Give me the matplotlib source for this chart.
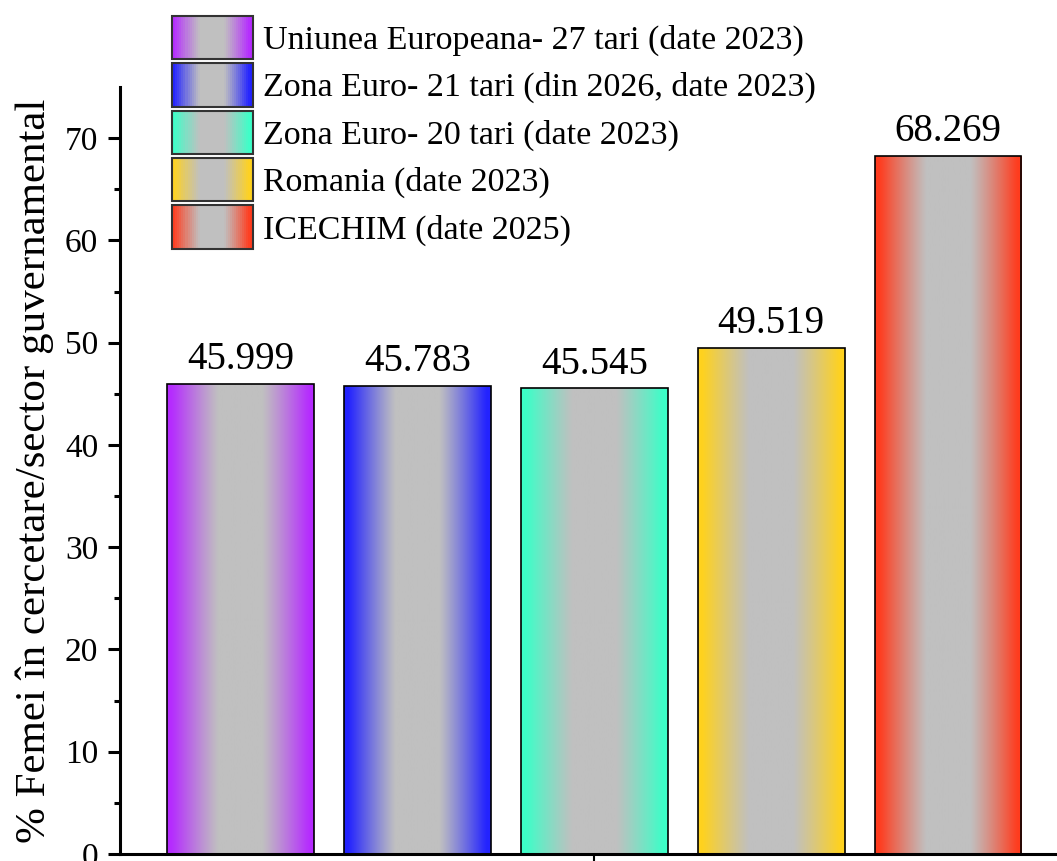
import numpy as np
import matplotlib
matplotlib.use("Agg")
import matplotlib.pyplot as plt
from matplotlib.colors import LinearSegmentedColormap, to_rgb
from matplotlib.legend_handler import HandlerBase
from matplotlib.patches import Rectangle

plt.rcParams['font.family'] = ['Liberation Serif', 'DejaVu Serif']

labels = ['Uniunea Europeana- 27 tari (date 2023)',
          'Zona Euro- 21 tari (din 2026, date 2023)',
          'Zona Euro- 20 tari (date 2023)',
          'Romania (date 2023)',
          'ICECHIM (date 2025)']
values = [45.999, 45.783, 45.545, 49.519, 68.269]
colors = ['#b52bff', '#2323ff', '#3cffc8', '#ffd21e', '#ff3c1e']
gray = '#c0c0c0'


def grad_cmap(c):
    # colour at both edges, fading to a gray middle band
    c1, g = np.array(to_rgb(c)), np.array(to_rgb(gray))
    stops = []
    for t in np.linspace(0, 1, 41):
        d = min(t, 1 - t)
        s = np.clip((d - 0.03) / 0.32, 0, 1)
        w = (1 - s) ** 1.1
        stops.append((t, tuple(w * c1 + (1 - w) * g)))
    return LinearSegmentedColormap.from_list('g', stops)


class HandlerGradient(HandlerBase):
    def create_artists(self, legend, orig_handle, xd, yd, width, height, fontsize, trans):
        cmap = grad_cmap(orig_handle.get_facecolor())
        n = 40
        arts = []
        for i in range(n):
            r = Rectangle((-xd + width * i / n - 0.5, -yd), width / n + 1, height,
                          facecolor=cmap((i + 0.5) / n), edgecolor='none', transform=trans)
            arts.append(r)
        arts.append(Rectangle((-xd, -yd), width, height, facecolor='none',
                              edgecolor='#333333', lw=1.5, transform=trans))
        return arts


fig = plt.figure(figsize=(10.57, 8.61), dpi=100)
ax = fig.add_axes([120 / 1057, 7 / 861, 1 - 120 / 1057, (854 - 87) / 861])

x = np.arange(1, len(values) + 1)
bars = ax.bar(x, values, width=0.83, facecolor='none', edgecolor='black', lw=1.2, zorder=3)
grad = np.linspace(0, 1, 256).reshape(1, -1)
handles = []
for b, c, lab in zip(bars, colors, labels):
    im = ax.imshow(grad, cmap=grad_cmap(c), aspect='auto', zorder=2,
                   extent=[b.get_x(), b.get_x() + b.get_width(), 0, b.get_height()])
    im.set_clip_path(b)
    handles.append(Rectangle((0, 0), 1, 1, facecolor=c, label=lab))

for xi, v in zip(x, values):
    ax.annotate(f'{v:.3f}', (xi, v), xytext=(0, 4), textcoords='offset points',
                ha='center', va='bottom', fontsize=28)

ax.set_xlim(1 - 120.5 / 177, 5 + 109 / 177)
ax.set_ylim(0, 75)
ax.set_yticks(range(0, 71, 10))
ax.set_yticks(range(5, 75, 10), minor=True)
ax.set_xticks([3])
ax.set_xticklabels([])
ax.tick_params(axis='y', which='major', length=8.6, width=2.2, labelsize=24, pad=7)
ax.tick_params(axis='y', which='minor', length=4.3, width=2.2)
ax.tick_params(axis='x', length=8.6, width=1.5)
for s in ['top', 'right']:
    ax.spines[s].set_visible(False)
for s in ['left', 'bottom']:
    ax.spines[s].set_linewidth(2.2)
ax.set_ylabel('% Femei în cercetare/sector guvernamental', fontsize=31, labelpad=8)

fig.legend(handles=handles, handler_map={Rectangle: HandlerGradient()},
           loc='upper left', bbox_to_anchor=(172 / 1057, 1 - 16 / 861),
           frameon=False, fontsize=24.5, borderpad=0, borderaxespad=0,
           handlelength=2.38, handleheight=1.58, labelspacing=0.12, handletextpad=0.3)

fig.savefig('out.png', dpi=100)
